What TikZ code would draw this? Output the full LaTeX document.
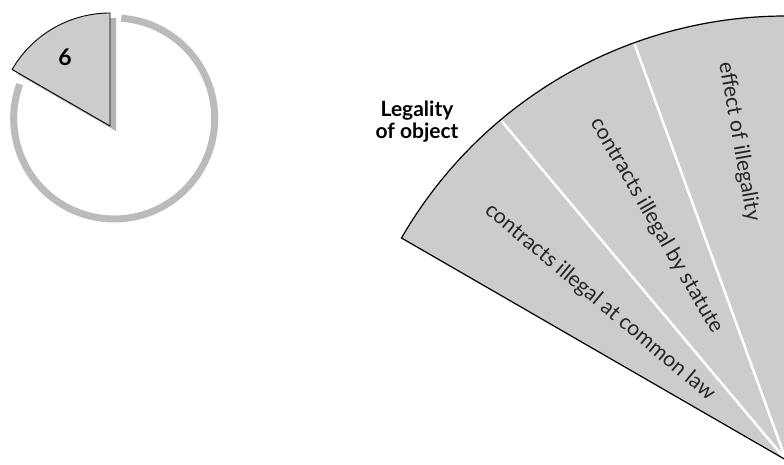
\documentclass[tikz,border=0pt]{standalone}
\usepackage{fontspec}
\setmainfont{Lato}
\usetikzlibrary{calc}
\definecolor{sectorgray}{HTML}{CCCCCC}
\definecolor{ringgray}{HTML}{BBBBBB}
\definecolor{shadowgray}{HTML}{B3B3B3}
\begin{document}
\begin{tikzpicture}[x=1pt, y=1pt,
    sector/.style={draw=black, line width=1.2pt, line join=miter},
    divider/.style={draw=white, line width=2.5pt},
    topic/.style={font=\fontsize{21.3}{24}\selectfont, text=black!85, inner sep=0pt},
    heading/.style={font=\fontsize{21}{22}\selectfont\bfseries, align=center, inner sep=0pt}
]
\useasboundingbox (0,0) rectangle (784,464);
% Overview pie
\coordinate (hub) at (114.2,345.5);
\coordinate (tip) at (110,338);
\draw[ringgray, line width=7pt] ($(hub)+(86:100.5)$) arc[start angle=86, end angle=-200, radius=100.5];
\fill[shadowgray] ($(tip)+(6,-5)$) -- ++(90:113) arc[start angle=90, end angle=150, radius=113] -- cycle;
\fill[sectorgray] (tip) -- ++(90:113) arc[start angle=90, end angle=150, radius=113] -- cycle;
\draw[sector, line width=0.9pt] (tip) -- ++(90:113) arc[start angle=90, end angle=150, radius=113] -- cycle;
\node[heading, font=\fontsize{23}{24}\selectfont\bfseries] (part) at (65,406.7) {6};
% Enlarged sector
\coordinate (apex) at (786,4);
\fill[sectorgray] (apex) -- ++(90:444) arc[start angle=90, end angle=150, radius=444] -- cycle;
\foreach \a in {110,130}
  \draw[divider] (apex) -- ++(\a:443);
\draw[sector] (apex) -- ++(90:444) arc[start angle=90, end angle=150, radius=444] -- cycle;
% Sector labels
\node[topic, rotate=-40] (common) at ($(apex)+(139.7:244)$) {contracts illegal at common law};
\node[topic, rotate=-60] (statute) at ($(apex)+(118.9:267.5)$) {contracts illegal by statute};
\node[topic, rotate=-80] (effect) at ($(apex)+(98.4:322)$) {effect of illegality};
\node[heading] (legality) at (417,342) {Legality\\of object};
\end{tikzpicture}
\end{document}
